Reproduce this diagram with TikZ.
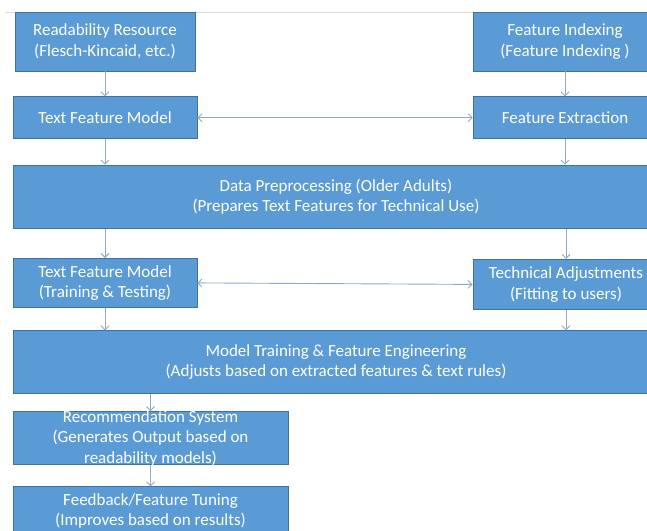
\documentclass[tikz,border=0pt]{standalone}
\usepackage{fontspec}
\setmainfont{Carlito}
\usepackage{xcolor}
\usetikzlibrary{positioning,arrows.meta}

\definecolor{boxblue}{HTML}{5B9BD5}
\definecolor{boxedge}{HTML}{41719C}
\definecolor{linkgray}{HTML}{8FA9C7}

\begin{document}
\begin{tikzpicture}[
    x=1pt, y=-1pt,
    >={Straight Barb[length=4pt,width=8pt]},
    box/.style={draw=boxedge, line width=0.8pt, fill=boxblue, text=white, align=center,
        inner sep=0pt, font=\fontsize{17}{20.5}\selectfont},
    txt/.style={text=white, align=center, font=\fontsize{17}{20.5}\selectfont},
    link/.style={->, draw=linkgray, line width=0.9pt},
]
\useasboundingbox (0,0) rectangle (647,530);
\clip (0,0) rectangle (647,530);
\draw[black!15, line width=0.8pt] (5,12) -- (647,12);

% left and right columns on top
\node[box, minimum width=180pt, minimum height=59pt] (res) at (105,41.5) {Readability Resource\\(Flesch-Kincaid, etc.)};
\node[box, minimum width=184pt, minimum height=42pt, below=25pt of res] (tfm) {Text Feature Model};
\node[box, minimum width=184pt, minimum height=59pt] (idx) at (565,41.5) {Feature Indexing\\(Feature Indexing )};
\node[box, minimum width=184pt, minimum height=42pt, below=25pt of idx] (ext) {Feature Extraction};

% wide preprocessing step
\node[box, minimum width=646pt, minimum height=63pt, below=25.5pt of tfm.south west, anchor=north west] (pre)
    {Data Preprocessing (Older Adults)\\(Prepares Text Features for Technical Use)};

\node[box, minimum width=184pt, minimum height=49pt, below=29.5pt of pre.south west, anchor=north west] (tft)
    {Text Feature Model\\(Training \& Testing)};
\node[box, minimum width=186pt, minimum height=50pt, below=30.5pt of pre.south east, anchor=north east] (adj)
    {Technical Adjustments\\(Fitting to users)};

\node[box, minimum width=646pt, minimum height=63pt, below=22.5pt of tft.south west, anchor=north west] (mte)
    {Model Training \& Feature Engineering\\(Adjusts based on extracted features \& text rules)};

% output stage, text runs over the box edge
\node[box, minimum width=275pt, minimum height=53pt, below=17pt of mte.south west, anchor=north west] (rec) {};
\node[box, minimum width=275pt, minimum height=48pt, below=21.5pt of rec] (fbk)
    {Feedback/Feature Tuning\\(Improves based on results)};

\draw[link] (res) -- (tfm);
\draw[link] (idx) -- (ext);
\draw[link, <->] (tfm) -- (ext);
\draw[link] (tfm) -- (tfm |- pre.north);
\draw[link] (ext) -- (ext |- pre.north);
\draw[link] (pre.south -| tft) -- (tft);
\draw[link] (pre.south -| adj) -- (adj);
\draw[link, <->] (tft.east) -- (adj.west);
\draw[link] (tft) -- (tft |- mte.north);
\draw[link] (adj) -- (adj |- mte.north);
\draw[link] (mte.south -| rec) -- (rec);
\draw[link] (rec) -- (fbk);

\node[txt] (rectext) at (rec) {Recommendation System\\(Generates Output based on\\readability models)};
\end{tikzpicture}
\end{document}
